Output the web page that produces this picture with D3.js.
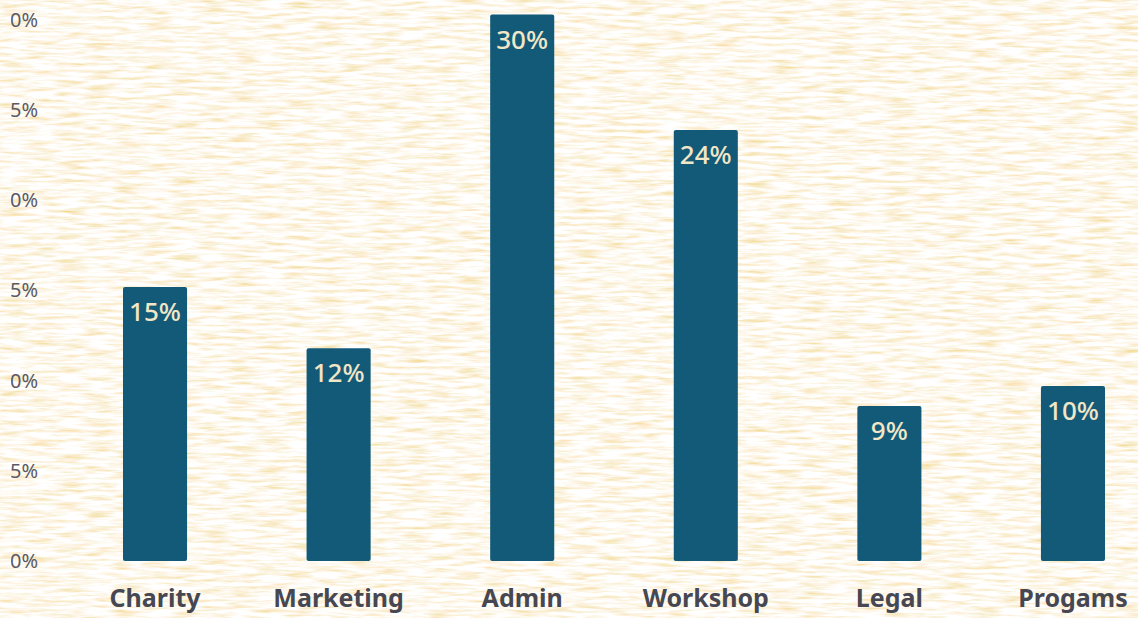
<!DOCTYPE html>
<html>
<head>
<meta charset="utf-8">
<script src="https://cdn.jsdelivr.net/npm/d3@7"></script>
<style>
  html, body { margin: 0; padding: 0; background: #f7e9c8; overflow: hidden; }
  svg { display: block; }
</style>
</head>
<body>
<script>
// ---- data ----
const categories = ["Charity", "Marketing", "Admin", "Workshop", "Legal", "Progams"];
const values = [0.152, 0.118, 0.303, 0.239, 0.086, 0.097];
const yTicks = [0, 0.05, 0.10, 0.15, 0.20, 0.25, 0.30];

const W = 1138, H = 618;
const svg = d3.select("body").append("svg").attr("width", W).attr("height", H);
const defs = svg.append("defs");

// textured background (procedural noise filter)
const f = defs.append("filter").attr("id", "tex").attr("x", 0).attr("y", 0)
  .attr("width", W).attr("height", H).attr("filterUnits", "userSpaceOnUse");
f.append("feTurbulence").attr("type", "fractalNoise").attr("baseFrequency", "0.035 0.3")
  .attr("numOctaves", 3).attr("seed", 7).attr("result", "n");
f.append("feColorMatrix").attr("in", "n").attr("type", "matrix")
  .attr("values", [
    -0.18, 0, 0.12, 0, 1.02,
    -0.55, 0, 0.06, 0, 1.19,
    -1.30, 0, 0.22, 0, 1.40,
     0, 0, 0, 0, 1
  ].join(" "));
svg.append("rect").attr("width", W).attr("height", H).attr("fill", "#f7e9c8");
svg.append("rect").attr("width", W).attr("height", H).attr("filter", "url(#tex)");

defs.append("clipPath").attr("id", "leftclip")
  .append("rect").attr("x", 11).attr("y", 0).attr("width", W).attr("height", H);

// scales
const x = d3.scaleBand().domain(categories).range([32, 1196])
  .paddingInner(0.651).paddingOuter(0.4956);
const y = d3.scaleLinear().domain([0, 0.30]).range([561, 20]);

// y axis labels (left edge clipped as in the reference)
const ygWrap = svg.append("g").attr("clip-path", "url(#leftclip)");
const yg = ygWrap.append("g").attr("transform", "translate(38,0)")
  .call(d3.axisLeft(y).tickValues(yTicks).tickFormat(d3.format(".0%")).tickSize(0).tickPadding(0));
yg.select(".domain").remove();
yg.selectAll("text")
  .attr("font-family", "'Noto Sans', sans-serif")
  .attr("font-size", 20)
  .attr("fill", "#5a5a66");

// bars
svg.append("g").selectAll("rect").data(categories).join("rect")
  .attr("x", d => x(d))
  .attr("y", (d, i) => y(values[i]))
  .attr("width", x.bandwidth())
  .attr("height", (d, i) => y(0) - y(values[i]))
  .attr("rx", 2)
  .attr("fill", "#135a79");

// value labels
svg.append("g").selectAll("text").data(categories).join("text")
  .attr("x", d => x(d) + x.bandwidth() / 2)
  .attr("y", (d, i) => y(values[i]) + 34)
  .attr("text-anchor", "middle")
  .attr("font-family", "'Noto Sans', sans-serif")
  .attr("font-size", 26)
  .attr("font-weight", 500)
  .attr("fill", "#f1e6c6")
  .text((d, i) => d3.format(".0%")(values[i]));

// x axis labels
const xg = svg.append("g").attr("transform", "translate(0,589)")
  .call(d3.axisBottom(x).tickSize(0).tickPadding(0));
xg.select(".domain").remove();
xg.selectAll("text")
  .attr("dy", "0.71em")
  .attr("font-family", "'Noto Sans', sans-serif")
  .attr("font-size", 25)
  .attr("font-weight", 700)
  .attr("fill", "#474752");
</script>
</body>
</html>
